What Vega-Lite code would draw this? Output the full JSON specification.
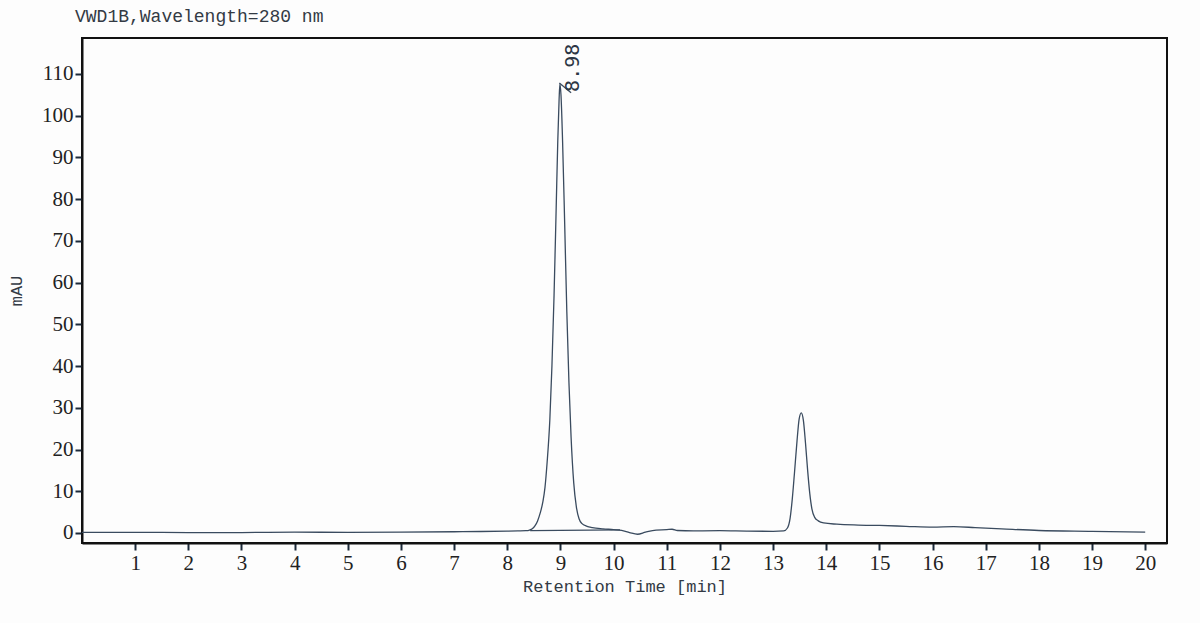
{
  "$schema": "https://vega.github.io/schema/vega-lite/v6.json",
  "width": 1085,
  "height": 505,
  "autosize": "none",
  "padding": {"left": 82, "top": 38, "right": 33, "bottom": 80},
  "background": "#fdfdfd",
  "title": {
    "text": "VWD1B,Wavelength=280 nm",
    "anchor": "start",
    "frame": "group",
    "orient": "top",
    "offset": 12,
    "dx": -7,
    "font": "Liberation Mono",
    "fontSize": 18,
    "fontWeight": "normal",
    "color": "#333a44"
  },
  "datasets": {
    "trace": [
      {"t": 0, "mau": 0.15}, {"t": 1, "mau": 0.15}, {"t": 2, "mau": 0.1},
      {"t": 3, "mau": 0.1}, {"t": 4, "mau": 0.2}, {"t": 5, "mau": 0.15},
      {"t": 6, "mau": 0.2}, {"t": 7, "mau": 0.3}, {"t": 7.5, "mau": 0.35},
      {"t": 8, "mau": 0.45}, {"t": 8.2, "mau": 0.5}, {"t": 8.35, "mau": 0.55},
      {"t": 8.42, "mau": 0.7}, {"t": 8.47, "mau": 1.0}, {"t": 8.52, "mau": 1.7},
      {"t": 8.57, "mau": 2.9}, {"t": 8.62, "mau": 4.8}, {"t": 8.67, "mau": 7.5},
      {"t": 8.71, "mau": 11}, {"t": 8.75, "mau": 17}, {"t": 8.8, "mau": 27},
      {"t": 8.84, "mau": 40}, {"t": 8.88, "mau": 57}, {"t": 8.92, "mau": 78},
      {"t": 8.95, "mau": 94}, {"t": 8.975, "mau": 104}, {"t": 8.99, "mau": 107.6},
      {"t": 9.01, "mau": 105}, {"t": 9.04, "mau": 94}, {"t": 9.08, "mau": 74},
      {"t": 9.12, "mau": 53}, {"t": 9.16, "mau": 36}, {"t": 9.2, "mau": 23},
      {"t": 9.25, "mau": 12}, {"t": 9.3, "mau": 6.2}, {"t": 9.35, "mau": 3.4},
      {"t": 9.4, "mau": 2.3}, {"t": 9.5, "mau": 1.6}, {"t": 9.6, "mau": 1.3},
      {"t": 9.8, "mau": 1.0}, {"t": 10.0, "mau": 0.8}, {"t": 10.15, "mau": 0.6},
      {"t": 10.3, "mau": 0.1}, {"t": 10.45, "mau": -0.3}, {"t": 10.6, "mau": 0.2},
      {"t": 10.8, "mau": 0.7}, {"t": 11.0, "mau": 0.8}, {"t": 11.1, "mau": 0.9},
      {"t": 11.2, "mau": 0.6}, {"t": 11.5, "mau": 0.5}, {"t": 12.0, "mau": 0.55},
      {"t": 12.5, "mau": 0.45}, {"t": 13.0, "mau": 0.4}, {"t": 13.2, "mau": 0.5},
      {"t": 13.27, "mau": 1.2}, {"t": 13.32, "mau": 3.5}, {"t": 13.36, "mau": 8},
      {"t": 13.4, "mau": 14}, {"t": 13.45, "mau": 22}, {"t": 13.49, "mau": 27.3},
      {"t": 13.53, "mau": 28.8}, {"t": 13.57, "mau": 27}, {"t": 13.61, "mau": 21.5},
      {"t": 13.65, "mau": 15}, {"t": 13.69, "mau": 9.5}, {"t": 13.73, "mau": 5.8},
      {"t": 13.78, "mau": 3.8}, {"t": 13.85, "mau": 2.9}, {"t": 13.95, "mau": 2.4},
      {"t": 14.2, "mau": 2.1}, {"t": 14.6, "mau": 1.9}, {"t": 15.0, "mau": 1.8},
      {"t": 15.5, "mau": 1.6}, {"t": 16.0, "mau": 1.4}, {"t": 16.4, "mau": 1.5},
      {"t": 16.8, "mau": 1.3}, {"t": 17.3, "mau": 1.0}, {"t": 18.0, "mau": 0.6},
      {"t": 19.0, "mau": 0.4}, {"t": 20.0, "mau": 0.2}
    ],
    "marks": [
      {"t": 8.43, "mau": 0.55, "t2": 10.12, "mau2": 0.75},
      {"t": 8.98, "mau": 107.8, "t2": 9.2, "mau2": 105.5}
    ],
    "peaks": [
      {"t": 8.99, "mau": 107.6, "label": "8.98"}
    ]
  },
  "encoding": {
    "x": {
      "field": "t",
      "type": "quantitative",
      "title": "Retention Time [min]",
      "scale": {"domain": [0, 20.41], "nice": false, "zero": false},
      "axis": {
        "values": [1, 2, 3, 4, 5, 6, 7, 8, 9, 10, 11, 12, 13, 14, 15, 16, 17, 18, 19, 20],
        "labelPadding": 2,
        "titlePadding": 5
      }
    },
    "y": {
      "field": "mau",
      "type": "quantitative",
      "title": "mAU",
      "scale": {"domain": [-2.4, 118.6], "nice": false, "zero": false},
      "axis": {
        "values": [0, 10, 20, 30, 40, 50, 60, 70, 80, 90, 100, 110],
        "labelPadding": 2,
        "titlePadding": 16
      }
    }
  },
  "layer": [
    {
      "data": {"name": "trace"},
      "mark": {"type": "line", "color": "#3a4b5f", "strokeWidth": 1.3, "interpolate": "monotone"}
    },
    {
      "data": {"name": "marks"},
      "mark": {"type": "rule", "color": "#3a4b5f", "strokeWidth": 1.3},
      "encoding": {
        "x2": {"field": "t2"},
        "y2": {"field": "mau2"}
      }
    },
    {
      "data": {"name": "peaks"},
      "mark": {
        "type": "text",
        "angle": 270,
        "align": "left",
        "baseline": "middle",
        "dx": -8,
        "dy": 13,
        "font": "DejaVu Sans Mono",
        "fontSize": 20,
        "color": "#2c3644"
      },
      "encoding": {
        "text": {"field": "label"}
      }
    }
  ],
  "config": {
    "view": {"stroke": "#111111", "strokeWidth": 2},
    "axis": {
      "grid": false,
      "domainColor": "#111111",
      "domainWidth": 2,
      "tickColor": "#1c2a3a",
      "tickWidth": 2,
      "tickSize": 7,
      "labelFont": "Liberation Serif",
      "labelFontSize": 21,
      "labelColor": "#222222",
      "titleFont": "Liberation Mono",
      "titleFontSize": 17,
      "titleFontWeight": "normal",
      "titleColor": "#333a44"
    }
  }
}
